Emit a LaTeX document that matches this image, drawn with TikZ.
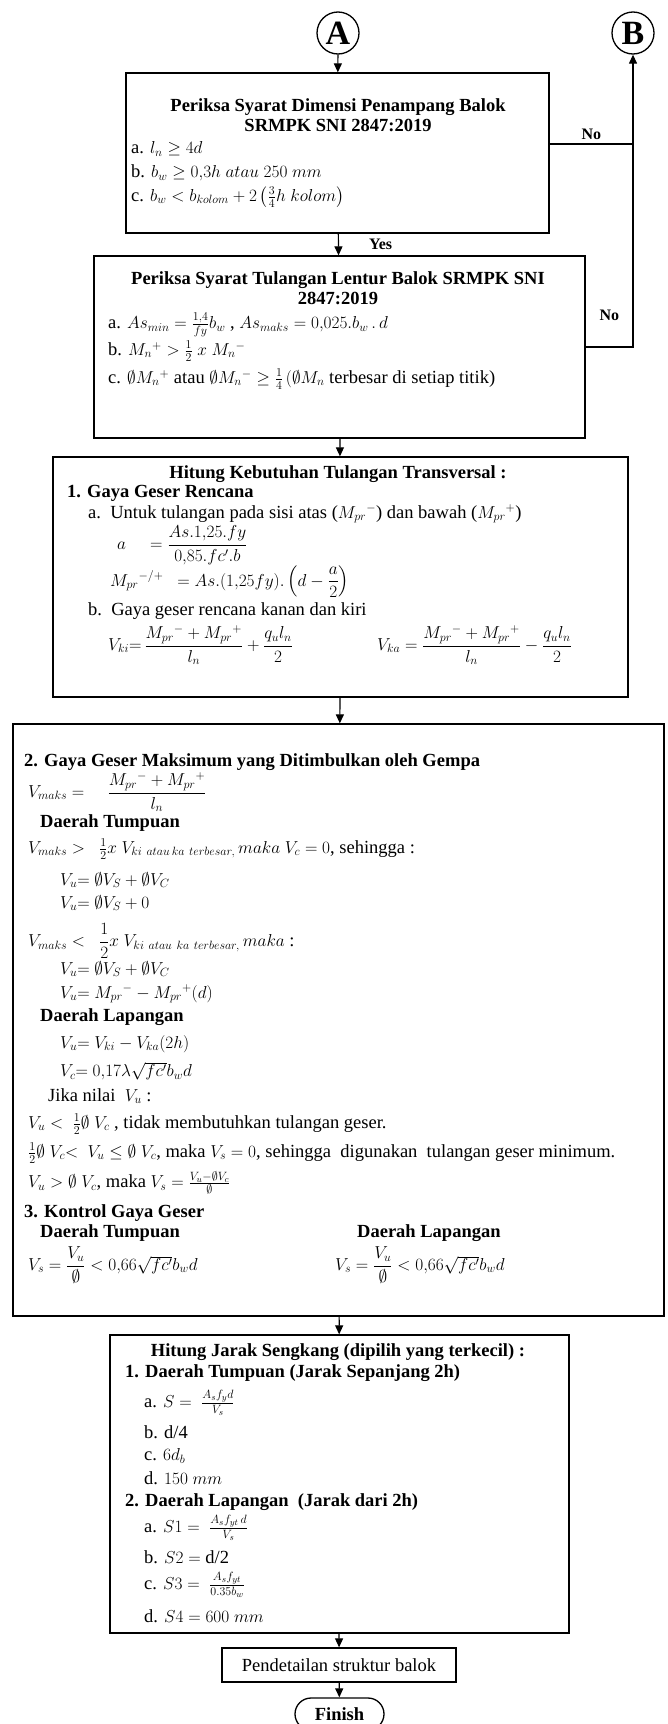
\documentclass[tikz,border=0pt]{standalone}
\usepackage{fontspec}
\setmainfont{Liberation Serif}
\usepackage{amsmath}
\usetikzlibrary{arrows.meta,positioning,shapes.misc}

\begin{document}
\begin{tikzpicture}[x=1pt,y=-1pt,font=\fontsize{18.5}{21}\selectfont, box/.style={draw,line width=1.3pt,inner sep=0pt}, con/.style={draw,circle,line width=1.3pt,minimum size=42pt,inner sep=0pt,font=\fontsize{34}{34}\selectfont\bfseries}, txt/.style={anchor=west,inner sep=0pt}, head/.style={inner sep=0pt,align=center,font=\fontsize{18.5}{20.5}\selectfont\bfseries}, sub/.style={txt,font=\fontsize{18.5}{21}\selectfont\bfseries}, lbl/.style={inner sep=0pt,font=\fontsize{16}{18}\selectfont\bfseries}, arrow/.style={-{Triangle[length=9pt,width=8pt]},line width=1.2pt}]
\useasboundingbox (0,0) rectangle (667,1724);
% connectors A and B
\node[con] (A) at (338,33) {A};
\node[con] (B) at (633,33) {B};
% dimension check
\node[box,minimum width=423pt,minimum height=160pt] (dim) at (337.5,153) {};
\node[head] (dimt) at (338,115) {Periksa Syarat Dimensi Penampang Balok\\SRMPK SNI 2847:2019};
\node[txt] (dima) at (131,149) {a. $l_n \geq 4d$};
\node[txt] (dimb) at (131,173) {b. $b_w \geq 0{,}3h\ atau\ 250\ mm$};
\node[txt] (dimc) at (131,197) {c. $b_w < b_{kolom} + 2\left(\frac{3}{4}h\ kolom\right)$};
% flexural reinforcement check
\node[box,minimum width=491pt,minimum height=182pt] (lent) at (339.5,347) {};
\node[head] (lentt) at (338,288) {Periksa Syarat Tulangan Lentur Balok SRMPK SNI\\2847:2019};
\node[txt] (lena) at (108,325) {a. $As_{min} = \frac{1{,}4}{fy}b_w$ ,\ $As_{maks} = 0{,}025.b_w\,.\,d$};
\node[txt] (lenb) at (108,351) {b. $M_n{}^{+} > \frac{1}{2}\ x\ M_n{}^{-}$};
\node[txt] (lenc) at (108,379) {c. $\emptyset M_n{}^{+}$ atau $\emptyset M_n{}^{-} \geq \frac{1}{4}\,(\emptyset M_n$ terbesar di setiap titik)};
% transverse reinforcement
\node[box,minimum width=575pt,minimum height=240pt] (trans) at (340.5,577) {};
\node[head] (transt) at (338,474) {Hitung Kebutuhan Tulangan Transversal :};
\node[sub] (tr1) at (67,493) {1. Gaya Geser Rencana};
\node[txt] (tra) at (88,514) {a.~~Untuk tulangan pada sisi atas ($M_{pr}{}^{-}$) dan bawah ($M_{pr}{}^{+}$)};
\node[txt] (traa) at (117,545) {\makebox[33pt][l]{$a$}$=\dfrac{As.1{,}25.fy}{0{,}85.fc'.b}$};
\node[txt] (tram) at (110,582) {$M_{pr}{}^{-/+}\ \ = As.(1{,}25fy).\left(d-\dfrac{a}{2}\right)$};
\node[txt] (trb) at (88,611) {b.~~Gaya geser rencana kanan dan kiri};
\node[txt] (trki) at (108,645) {$V_{ki}{=}\,\dfrac{M_{pr}{}^{-}+M_{pr}{}^{+}}{l_n}+\dfrac{q_u l_n}{2}$};
\node[txt] (trka) at (377,645) {$V_{ka}=\dfrac{M_{pr}{}^{-}+M_{pr}{}^{+}}{l_n}-\dfrac{q_u l_n}{2}$};
% seismic shear
\node[box,minimum width=651pt,minimum height=592pt] (gempa) at (338.5,1020) {};
\node[sub] (gp2) at (24,762) {2. Gaya Geser Maksimum yang Ditimbulkan oleh Gempa};
\node[txt] (gpv) at (28,792) {$V_{maks}=\quad\dfrac{M_{pr}{}^{-}+M_{pr}{}^{+}}{l_n}$};
\node[sub] (gpt) at (40,823) {Daerah Tumpuan};
\node[txt] (gpt1) at (28,849) {$V_{maks} >\ \ \frac{1}{2}x\ V_{ki\ atau\,ka\ terbesar,}\,maka\ V_c=0$, sehingga\ :};
\node[txt] (gpt2) at (60,880) {$V_u{=}\ \emptyset V_S+\emptyset V_C$};
\node[txt] (gpt3) at (60,903) {$V_u{=}\ \emptyset V_S+0$};
\node[txt] (gpt4) at (28,941) {$V_{maks} <\ \ \dfrac{1}{2}x\ V_{ki\ atau\ ka\ terbesar,}\,maka$ :};
\node[txt] (gpt5) at (60,969) {$V_u{=}\ \emptyset V_S+\emptyset V_C$};
\node[txt] (gpt6) at (60,994) {$V_u{=}\ M_{pr}{}^{-}-M_{pr}{}^{+}(d)$};
\node[sub] (gpl) at (40,1017) {Daerah Lapangan};
\node[txt] (gpl1) at (60,1044) {$V_u{=}\ V_{ki}-V_{ka}(2h)$};
\node[txt] (gpl2) at (60,1071) {$V_c{=}\ 0{,}17\lambda\sqrt{fc'}b_w d$};
\node[txt] (gpj) at (48,1096) {Jika nilai\ \ $V_u$ :};
\node[txt] (gpj1) at (28,1124) {$V_u <\ \frac{1}{2}\emptyset\ V_c$\ , tidak membutuhkan tulangan geser.};
\node[txt] (gpj2) at (28,1153) {$\frac{1}{2}\emptyset\ V_c{<}\ \ V_u\leq\emptyset\ V_c$, maka $V_s=0$, sehingga\ \ digunakan\ \ tulangan geser minimum.};
\node[txt] (gpj3) at (28,1183) {$V_u>\emptyset\ V_c$, maka $V_s=\frac{V_u-\emptyset V_c}{\emptyset}$};
\node[sub] (gp3) at (24,1213) {3. Kontrol Gaya Geser};
\node[sub] (gp3t) at (40,1233) {Daerah Tumpuan};
\node[sub] (gp3l) at (357,1233) {Daerah Lapangan};
\node[txt] (gp3tv) at (28,1265) {$V_s=\dfrac{V_u}{\emptyset}<0{,}66\sqrt{fc'}b_w d$};
\node[txt] (gp3lv) at (335,1265) {$V_s=\dfrac{V_u}{\emptyset}<0{,}66\sqrt{fc'}b_w d$};
% stirrup spacing
\node[box,minimum width=459pt,minimum height=298pt] (jarak) at (339.5,1484) {};
\node[head] (jarakt) at (338,1352) {Hitung Jarak Sengkang (dipilih yang terkecil) :};
\node[sub] (jr1) at (125,1373) {1. Daerah Tumpuan (Jarak Sepanjang 2h)};
\node[txt] (jr1a) at (144,1403) {a. $S=\ \frac{A_s f_y d}{V_s}$};
\node[txt] (jr1b) at (144,1432) {b. d/4};
\node[txt] (jr1c) at (144,1456) {c. $6d_b$};
\node[txt] (jr1d) at (144,1478) {d. $150\ mm$};
\node[sub] (jr2) at (125,1502) {2. Daerah Lapangan\ \ (Jarak dari 2h)};
\node[txt] (jr2a) at (144,1528) {a. $S1=\ \frac{A_s f_{yt}\, d}{V_s}$};
\node[txt] (jr2b) at (144,1557) {b. $S2=$ d/2};
\node[txt] (jr2c) at (144,1585) {c. $S3=\ \frac{A_s f_{yt}}{0.35b_w}$};
\node[txt] (jr2d) at (144,1616) {d. $S4=600\ mm$};
% detailing and end
\node[box,minimum width=234pt,minimum height=34pt] (detail) at (339,1665) {Pendetailan struktur balok};
\node[draw,rounded rectangle,line width=1.3pt,minimum width=89pt,minimum height=32pt,inner sep=0pt,font=\fontsize{18.5}{21}\selectfont\bfseries] (fin) at (339.5,1714) {Finish};
% arrows
\coordinate (nj1) at (633,144);
\draw[arrow] (A) -- (dim);
\draw[arrow] (dim) -- node[lbl,right=30pt] {Yes} (lent);
\draw[line width=1.2pt] (nj1 -| dim.east) -- node[lbl,above=4pt] {No} (nj1);
\draw[arrow] (lent.east) -| node[lbl,pos=0.25,above=26pt] {No} (B.south);
\draw[arrow] (lent) -- (trans);
\draw[arrow] (trans) -- (gempa);
\draw[arrow] (gempa) -- (jarak);
\draw[arrow] (jarak) -- (detail);
\draw[arrow] (detail) -- (fin);
\end{tikzpicture}
\end{document}
